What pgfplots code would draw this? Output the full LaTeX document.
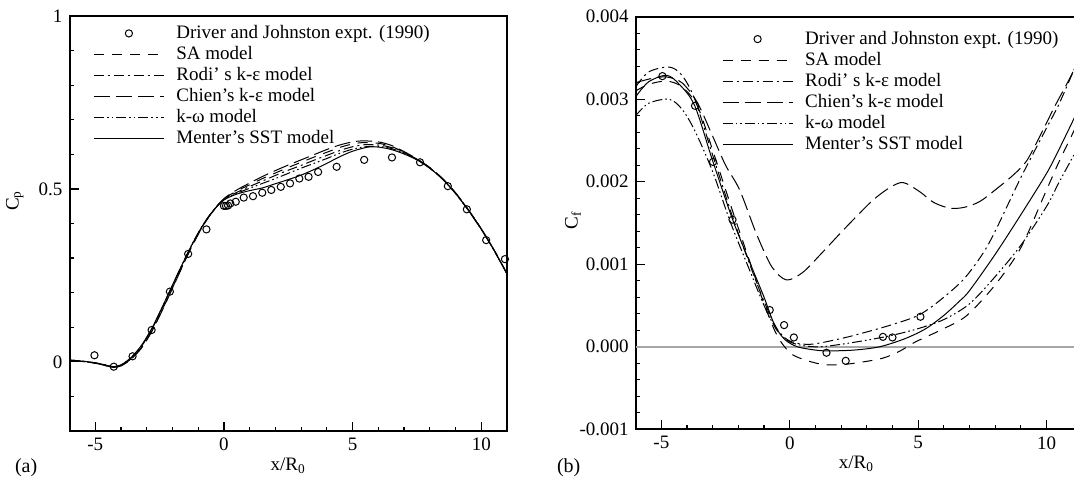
\documentclass[border=0pt]{standalone}
\usepackage{pgfplots}
\pgfplotsset{compat=1.18}
\usepackage{fontspec}
\setmainfont{Liberation Serif}
\pgfplotsset{
  cfdaxis/.style={
    scale only axis,
    axis line style={line width=1pt},
    tick pos=left,
    tick align=inside,
    major tick length=4.5pt,
    minor tick length=2pt,
    every tick/.style={black, line width=0.6pt},
    xmin=-6,
    xtick={-5,0,5,10},
    minor x tick num=4,
    /pgf/number format/assume math mode=true,
    tick label style={font=\fontsize{9.5}{11}\selectfont},
    label style={font=\fontsize{9.5}{11}\selectfont},
    xlabel={x/R\textsubscript{0}},
    xlabel style={at={(axis description cs:0.5,0)}, anchor=north, yshift=-10pt},
    legend cell align=left,
    legend style={draw=none, fill=none, font=\fontsize{9.5}{11}\selectfont,
      inner sep=0pt, anchor=north west, row sep=1.5pt,
      nodes={inner sep=0pt, text height=7pt, text depth=2pt},
      /tikz/every odd column/.append style={column sep=6pt}},
    legend image code/.code={\draw[#1] (0pt,0pt) -- (35pt,0pt);},
  },
  expt/.style={black, only marks, mark=o, mark size=1.8pt, mark options={line width=0.5pt},
    legend image code/.code={\draw[#1] plot coordinates {(17.5pt,0pt)};}},
  sa/.style={black, line width=0.5pt, dash pattern=on 5pt off 4pt},
  rodi/.style={black, line width=0.5pt, dash pattern=on 5pt off 2pt on 1pt off 2pt},
  chien/.style={black, line width=0.5pt, dash pattern=on 8pt off 3pt},
  kw/.style={black, line width=0.5pt, dash pattern=on 5pt off 1.5pt on 0.8pt off 1.5pt on 0.8pt off 1.5pt},
  sst/.style={black, line width=0.5pt},
}
\begin{document}
\begin{tikzpicture}
\path[use as bounding box] (0,0) rectangle (537pt,238.5pt);
% ---------------- (a) Cp ----------------
\begin{axis}[cfdaxis,
  at={(34.75pt,23pt)}, anchor=south west,
  width=218.75pt, height=207.5pt,
  xmax=11,
  ymin=-0.2, ymax=1,
  ytick={0,0.5,1},
  minor ytick={-0.1,0.1,0.2,0.3,0.4,0.6,0.7,0.8,0.9},
  ylabel={C\textsubscript{p}},
  ylabel style={at={(axis description cs:-0.125,0.555)}, anchor=center},
  legend style={at={(axis description cs:0,1)}, xshift=11.75pt, yshift=-4pt},
]
\addplot[expt] coordinates {
(-5.03,0.019) (-4.28,-0.014) (-3.55,0.016) (-2.81,0.092) (-2.10,0.203) (-1.39,0.312)
(-0.68,0.383) (0.0,0.451) (0.08,0.451) (0.16,0.452) (0.25,0.458) (0.46,0.463)
(0.77,0.475) (1.13,0.479) (1.49,0.489) (1.84,0.497) (2.21,0.506) (2.57,0.516)
(2.93,0.530) (3.29,0.535) (3.66,0.549) (4.38,0.564) (5.45,0.584) (6.53,0.591)
(7.62,0.577) (8.70,0.508) (9.44,0.441) (10.19,0.352) (10.92,0.297)};
\addlegendentry{Driver and Johnston expt. (1990)}
\addplot[sa, smooth] coordinates {
(-6,0.004) (-5.5,0.001) (-5,-0.004) (-4.6,-0.011) (-4.3,-0.016) (-4,-0.011) (-3.6,0.009)
(-3.2,0.042) (-2.8,0.090) (-2.4,0.150) (-2,0.214) (-1.6,0.279) (-1.2,0.341) (-0.8,0.395)
(-0.4,0.438) (0,0.471) (0.5,0.494) (1,0.512) (1.5,0.530) (2,0.546) (2.5,0.562) (3,0.577)
(3.5,0.592) (4,0.606) (4.5,0.620) (5,0.630) (5.4,0.634) (6,0.632) (6.5,0.623) (7,0.606)
(7.5,0.586) (8,0.561) (8.5,0.529) (9,0.488) (9.5,0.439) (10,0.384) (10.5,0.323) (11,0.255)};
\addlegendentry{SA model}
\addplot[rodi, smooth] coordinates {
(-6,0.005) (-5.5,0.002) (-5,-0.003) (-4.6,-0.010) (-4.3,-0.015) (-4,-0.010) (-3.6,0.011)
(-3.2,0.045) (-2.8,0.094) (-2.4,0.155) (-2,0.219) (-1.6,0.283) (-1.2,0.344) (-0.8,0.397)
(-0.4,0.439) (0,0.470) (0.5,0.490) (1,0.507) (1.5,0.523) (2,0.539) (2.5,0.554) (3,0.568)
(3.5,0.583) (4,0.597) (4.5,0.611) (5,0.622) (5.5,0.628) (6,0.627) (6.5,0.620) (7,0.605)
(7.5,0.585) (8,0.560) (8.5,0.528) (9,0.487) (9.5,0.438) (10,0.384) (10.5,0.322) (11,0.254)};
\addlegendentry{Rodi' s k-ε model}
\addplot[chien, smooth] coordinates {
(-6,0.004) (-5.5,0.001) (-5,-0.004) (-4.6,-0.011) (-4.3,-0.016) (-4,-0.012) (-3.6,0.008)
(-3.2,0.040) (-2.8,0.088) (-2.4,0.148) (-2,0.212) (-1.6,0.278) (-1.2,0.340) (-0.8,0.395)
(-0.4,0.438) (0,0.472) (0.5,0.497) (1,0.517) (1.5,0.536) (2,0.553) (2.5,0.569) (3,0.584)
(3.5,0.599) (4,0.614) (4.5,0.627) (5,0.636) (5.4,0.639) (6,0.636) (6.5,0.626) (7,0.608)
(7.5,0.587) (8,0.562) (8.5,0.530) (9,0.489) (9.5,0.440) (10,0.385) (10.5,0.323) (11,0.255)};
\addlegendentry{Chien's k-ε model}
\addplot[kw, smooth] coordinates {
(-6,0.005) (-5.5,0.002) (-5,-0.003) (-4.6,-0.009) (-4.3,-0.014) (-4,-0.009) (-3.6,0.013)
(-3.2,0.047) (-2.8,0.096) (-2.4,0.157) (-2,0.221) (-1.6,0.285) (-1.2,0.345) (-0.8,0.398)
(-0.4,0.439) (0,0.469) (0.5,0.487) (1,0.502) (1.5,0.516) (2,0.530) (2.5,0.545) (3,0.560)
(3.5,0.574) (4,0.588) (4.5,0.603) (5,0.615) (5.5,0.622) (6,0.623) (6.5,0.617) (7,0.603)
(7.5,0.585) (8,0.560) (8.5,0.528) (9,0.487) (9.5,0.438) (10,0.383) (10.5,0.322) (11,0.254)};
\addlegendentry{k-ω model}
\addplot[sst, smooth] coordinates {
(-6,0.005) (-5.5,0.002) (-5,-0.003) (-4.6,-0.009) (-4.3,-0.014) (-4,-0.009) (-3.6,0.013)
(-3.2,0.048) (-2.8,0.097) (-2.4,0.158) (-2,0.222) (-1.6,0.285) (-1.2,0.345) (-0.8,0.397)
(-0.4,0.438) (0,0.468) (0.5,0.485) (1,0.495) (1.5,0.503) (2,0.515) (2.5,0.527) (3,0.540)
(3.5,0.556) (4,0.574) (4.5,0.593) (5,0.609) (5.6,0.621) (6,0.621) (6.5,0.614) (7,0.601)
(7.5,0.584) (8,0.560) (8.5,0.528) (9,0.487) (9.5,0.438) (10,0.383) (10.5,0.322) (11,0.254)};
\addlegendentry{Menter's SST model}
\end{axis}
% ---------------- (b) Cf ----------------
\begin{axis}[cfdaxis,
  at={(317.85pt,23.85pt)}, anchor=south west,
  width=220.8pt, height=206.3pt,
  xmax=11.2,
  ymin=-0.001, ymax=0.004,
  ytick={-0.001,0,0.001,0.002,0.003,0.004},
  minor y tick num=4,
  scaled y ticks=false,
  yticklabel style={/pgf/number format/.cd, fixed, fixed zerofill, precision=3},
  ylabel={C\textsubscript{f}},
  ylabel style={at={(axis description cs:-0.142,0.507)}, anchor=center},
  legend style={at={(axis description cs:0,1)}, xshift=43pt, yshift=-6.5pt},
]
\addplot[gray!70, line width=0.8pt, forget plot] coordinates {(-6,0) (11.5,0)};
\addplot[expt] coordinates {
(-4.96,0.00328) (-3.69,0.00292) (-2.99,0.00224) (-2.23,0.00154) (-0.78,0.000445)
(-0.22,0.000263) (0.16,0.000113) (1.43,-0.000072) (2.18,-0.00017) (3.63,0.00012)
(4.0,0.000113) (5.09,0.000364)};
\addlegendentry{Driver and Johnston expt. (1990)}
\addplot[sa, smooth] coordinates {
(-6,0.00310) (-5.5,0.00318) (-4.8,0.00322) (-4.2,0.00315) (-3.6,0.00292) (-3.0,0.00238)
(-2.2,0.00162) (-1.5,0.00098) (-1.0,0.00052) (-0.5,0.00014) (0.0,-0.00007) (0.5,-0.00015)
(1.2,-0.00021) (1.8,-0.00022) (2.5,-0.00020) (3.6,-0.00014) (4.3,-0.00005) (4.9,0.00006)
(6.0,0.00022) (6.9,0.00038) (8.0,0.00075) (9.0,0.00120) (10.0,0.00190) (10.5,0.00225) (11.2,0.00270)};
\addlegendentry{SA model}
\addplot[rodi, smooth] coordinates {
(-6,0.00315) (-5.5,0.00333) (-4.7,0.00339) (-4.2,0.00329) (-3.7,0.00300) (-3.0,0.00232)
(-2.2,0.00155) (-1.5,0.00095) (-1.0,0.00055) (-0.5,0.00022) (0.0,0.00007) (0.8,0.00003)
(2.0,0.00010) (3.0,0.00018) (4.0,0.00027) (5.0,0.00038) (5.8,0.00055) (6.75,0.00081)
(7.5,0.00112) (8.0,0.00140) (9.0,0.00205) (10.0,0.00265) (10.5,0.00295) (11.2,0.00345)};
\addlegendentry{Rodi' s k-ε model}
\addplot[chien, smooth] coordinates {
(-6,0.00320) (-5.4,0.00325) (-4.8,0.00327) (-4.2,0.00320) (-3.6,0.00296) (-3.0,0.00255)
(-2.5,0.00220) (-1.95,0.00190) (-1.3,0.00137) (-0.7,0.00097) (-0.13,0.00081) (0.5,0.00090)
(1.2,0.00112) (1.95,0.00137) (2.6,0.00158) (3.25,0.00178) (3.9,0.00193) (4.42,0.00199)
(5.06,0.00188) (5.6,0.00175) (6.23,0.00168) (6.8,0.00169) (7.4,0.00176) (8.0,0.00190)
(8.7,0.00208) (9.22,0.00225) (9.74,0.00255) (10.3,0.00290) (10.9,0.00325) (11.2,0.00345)};
\addlegendentry{Chien's k-ε model}
\addplot[kw, smooth] coordinates {
(-6,0.00280) (-5.5,0.00295) (-4.7,0.00300) (-4.2,0.00288) (-3.7,0.00262) (-3.0,0.00212)
(-2.3,0.00150) (-1.5,0.00088) (-1.0,0.00050) (-0.5,0.00020) (0.0,0.00006) (0.6,0.00001)
(1.2,0.00000) (2.0,0.00003) (3.0,0.00008) (4.0,0.00014) (5.0,0.00022) (6.0,0.00033)
(7.0,0.00052) (8.0,0.00085) (9.0,0.00123) (10.0,0.00170) (10.5,0.00200) (11.2,0.00240)};
\addlegendentry{k-ω model}
\addplot[sst, smooth] coordinates {
(-6,0.00303) (-5.5,0.00321) (-4.8,0.00329) (-4.3,0.00318) (-3.7,0.00292) (-3.0,0.00225)
(-2.2,0.00152) (-1.5,0.00098) (-1.0,0.00060) (-0.6,0.00027) (-0.2,0.00009) (0.3,0.00000)
(1.0,-0.00004) (1.5,-0.00005) (2.5,-0.00004) (3.5,0.00000) (4.5,0.00010) (5.3,0.00022)
(6.0,0.00038) (6.6,0.00055) (7.0,0.00068) (8.0,0.00112) (9.0,0.00160) (10.0,0.00210)
(10.5,0.00240) (11.2,0.00285)};
\addlegendentry{Menter's SST model}
\end{axis}
\node[anchor=base west, font=\fontsize{10}{12}\selectfont] at (4pt,2.5pt) {(a)};
\node[anchor=base west, font=\fontsize{10}{12}\selectfont] at (275pt,2.5pt) {(b)};
\end{tikzpicture}
\end{document}
